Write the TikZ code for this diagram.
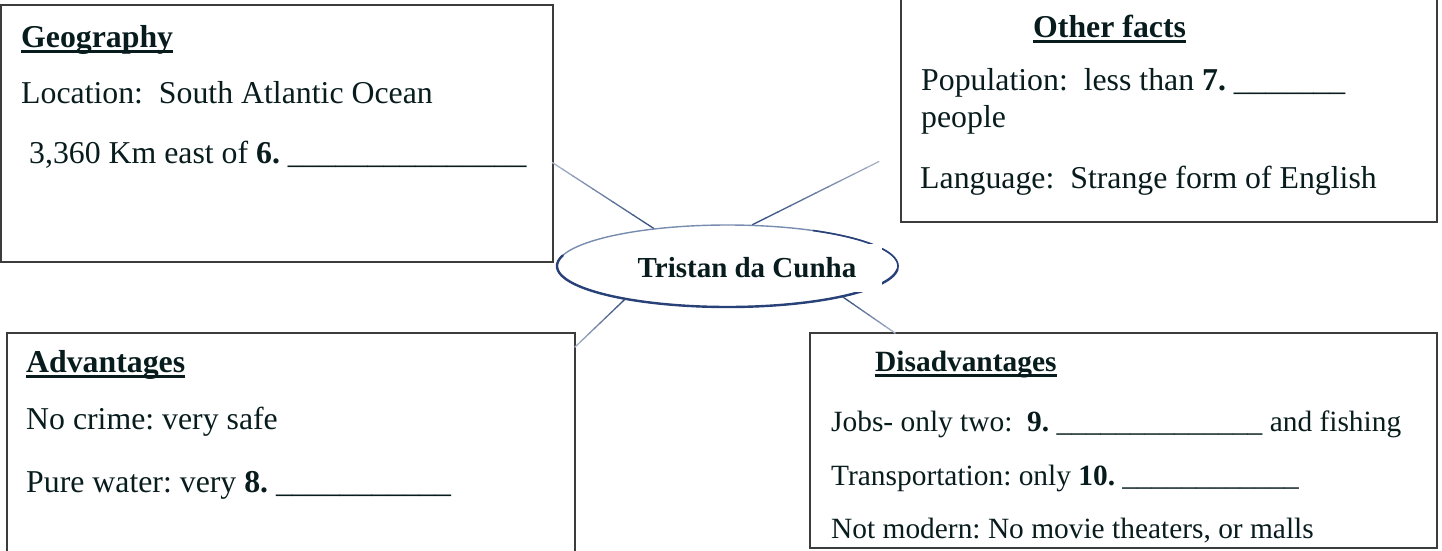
\documentclass[tikz,border=0pt]{standalone}
\usepackage{fontspec}
\setmainfont{Liberation Serif}
\usetikzlibrary{shapes.geometric,calc}
\definecolor{ink}{RGB}{8,28,30}
\definecolor{edge}{RGB}{60,60,60}
\definecolor{spoke}{RGB}{55,80,130}
\definecolor{ring}{RGB}{40,65,120}
\definecolor{ringlight}{RGB}{120,140,175}
\frenchspacing
\newcommand{\ulbold}[1]{\setbox0\hbox{\bfseries #1}\rlap{\rule[-5.5pt]{\wd0}{3pt}}\box0}
\newcommand{\fadeline}[2]{%
  \foreach \k in {0,...,9}{%
    \pgfmathsetmacro{\ta}{\k/10}%
    \pgfmathsetmacro{\tb}{(\k+1)/10+0.01}%
    \pgfmathsetmacro{\mix}{100-6*\k}%
    \draw[spokeline, draw=spoke!\mix!white] ($(#1)!\ta!(#2)$) -- ($(#1)!\tb!(#2)$);
  }}
\tikzset{
  box/.style={draw=edge, line width=1.1pt, rectangle, inner sep=0pt, outer sep=0pt, anchor=north west},
  txt/.style={anchor=base west, inner sep=0pt, text=ink, font=\fontsize{31.8}{38}\selectfont},
  stxt/.style={anchor=base west, inner sep=0pt, text=ink, font=\fontsize{29.4}{35}\selectfont},
  spokeline/.style={line width=1.3pt},
}
\begin{document}
\begin{tikzpicture}[x=1pt,y=-1pt]
\useasboundingbox (0,0) rectangle (1442,550);
% boxes
\node[box, minimum width=552pt, minimum height=257pt] (geo) at (1,5) {};
\node[box, minimum width=536pt, minimum height=232pt] (oth) at (901,-10) {};
\node[box, minimum width=568pt, minimum height=230pt] (adv) at (7,333) {};
\node[box, minimum width=627pt, minimum height=215pt] (dis) at (810,333) {};
% centre
\node[ellipse, draw=ringlight, line width=1.4pt, minimum width=341pt, minimum height=82pt, inner sep=0pt] (ell) at (727.5,266) {};
\draw[draw=ring, line width=2.4pt, line cap=round] plot[domain=165:355, samples=80] ({727.5+170.5*cos(\x)}, {266-41*sin(\x)});
\draw[draw=ring, line width=1.6pt] plot[domain=355:420, samples=40] ({727.5+170.5*cos(\x)}, {266-41*sin(\x)});
\coordinate (g1) at (553,163);
\coordinate (o1) at (878,162);
\coordinate (a1) at (575,347);
\coordinate (d1) at (895,333);
\fadeline{ell.153}{g1}
\fadeline{ell.59}{o1}
\fadeline{ell.198}{a1}
\fadeline{ell.-15}{d1}
\node[fill=white, inner sep=0pt, minimum width=270pt, minimum height=48pt, text=ink, font=\fontsize{29}{35}\selectfont\bfseries] (title) at (747,268) {Tristan da Cunha};
% Geography
\node[txt] (gh) at (21,47) {\ulbold{Geography}};
\node[txt] (gl1) at (21,103) {Location:\ \ South Atlantic Ocean};
\node[txt] (gl2) at (29,163) {3,360 Km east of \textbf{6.} \_\_\_\_\_\_\_\_\_\_\_\_\_\_\_};
% Other facts
\node[txt] (oh) at (1033,37) {\ulbold{Other facts}};
\node[txt] (ol1) at (921,90) {Population:\ \ less than \textbf{7.} \_\_\_\_\_\_\_};
\node[txt] (ol2) at (921,127) {people};
\node[txt] (ol3) at (920,188) {Language:\ \ Strange form of English};
% Advantages
\node[txt] (ah) at (26,372) {\ulbold{Advantages}};
\node[txt] (al1) at (26,429) {No crime: very safe};
\node[txt] (al2) at (26,492) {Pure water: very \textbf{8.} \_\_\_\_\_\_\_\_\_\_\_};
% Disadvantages
\node[stxt] (dh) at (875,371) {\ulbold{Disadvantages}};
\node[stxt] (dl1) at (831,431) {Jobs- only two:\ \ \textbf{9.} \_\_\_\_\_\_\_\_\_\_\_\_\_\_ and fishing};
\node[stxt] (dl2) at (831,485) {Transportation: only \textbf{10.} \_\_\_\_\_\_\_\_\_\_\_\_};
\node[stxt] (dl3) at (831,538) {Not modern: No movie theaters, or malls};
\end{tikzpicture}
\end{document}
